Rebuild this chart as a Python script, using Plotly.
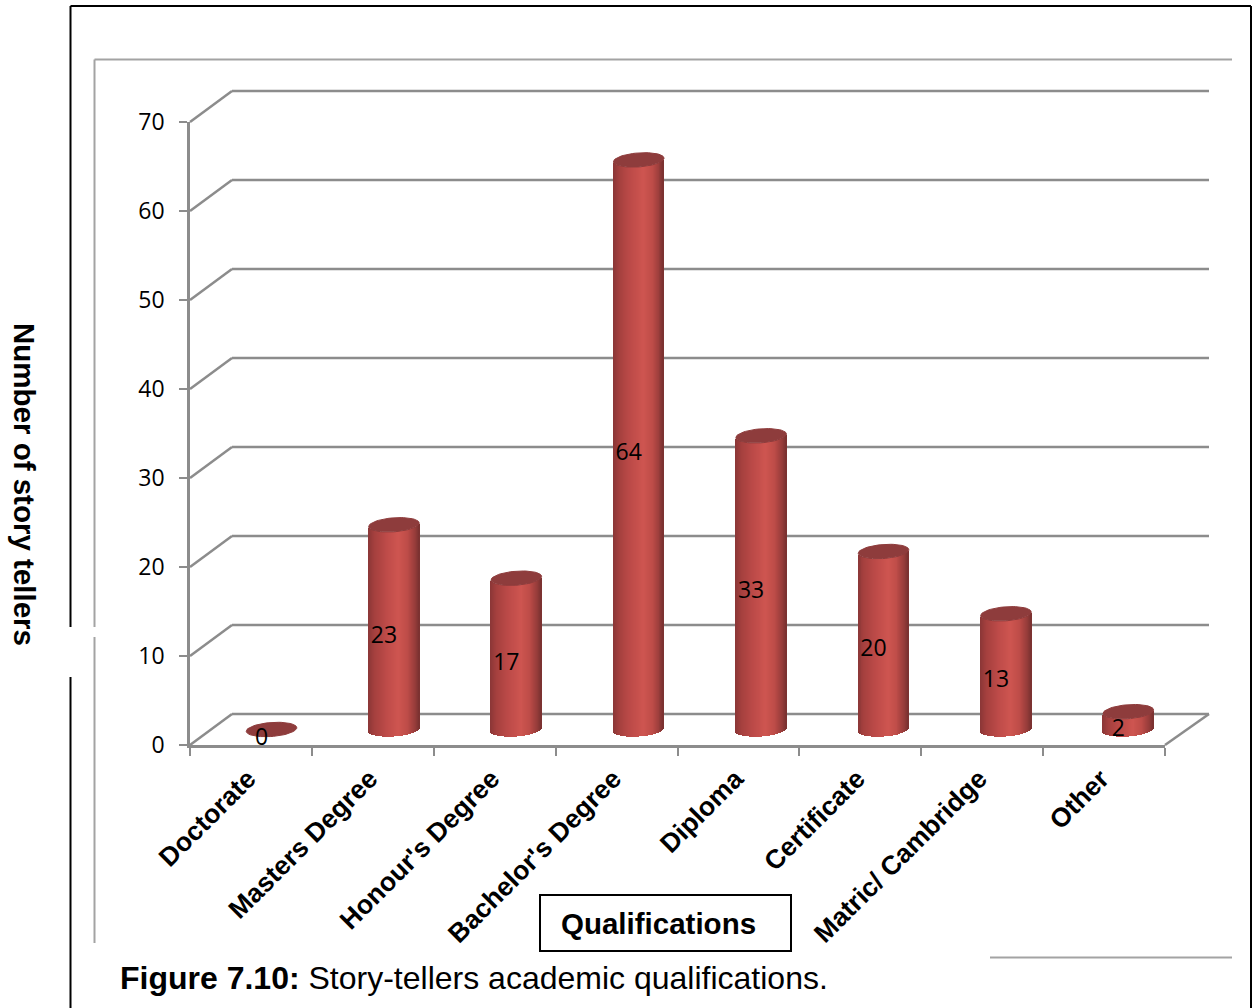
import numpy as np
import plotly.graph_objects as go

# Survey counts per qualification
categories = ["Doctorate", "Masters Degree", "Honour's Degree", "Bachelor's Degree",
              "Diploma", "Certificate", "Matric/ Cambridge", "Other"]
values = [0, 23, 17, 64, 33, 20, 13, 2]
value_ticks = [0, 10, 20, 30, 40, 50, 60, 70]

W, H = 1252, 1008
LEFT, RIGHT, TOP, BOTTOM = 190, 1165, 122, 745
PX_X = (RIGHT - LEFT) / len(categories)
PX_Y = (BOTTOM - TOP) / 70

# Oblique projection of the chart box, in pixels
DEPTH_X, DEPTH_Y = 42, 31
RADIUS, MINOR, SKEW = 25.3, 7.0, -0.07
FIRST_AXIS_PX, AXIS_STEP_PX = 271.5, 122.4
GRID = "#8c8c8c"
FRAME = "#a3a3a3"
FONT_BOLD = "Liberation Sans"
FONT_NUM = "Open Sans"

n = len(categories)
centers = np.arange(n) + 0.5
axis_x = (FIRST_AXIS_PX - LEFT + np.arange(n) * AXIS_STEP_PX) / PX_X
axis_y = (DEPTH_Y / 2) / PX_Y

# Cylinder bodies are narrow vertical strips with a horizontal shading ramp
STOPS_U = [-1.0, -0.75, -0.3, 0.2, 0.55, 0.85, 1.0]
STOPS_R = [138, 165, 188, 206, 190, 150, 120]
STOPS_G = [54, 64, 74, 85, 76, 60, 48]
STOPS_B = [54, 62, 72, 80, 72, 58, 48]
n_strips = 52
u = (np.arange(n_strips) + 0.5) / n_strips * 2 - 1
strip_x, strip_y, strip_base, strip_color = [], [], [], []
for cx, v in zip(axis_x, values):
    for ui in u:
        shift = (-MINOR * np.sqrt(1 - ui ** 2) - SKEW * RADIUS * ui) / PX_Y
        strip_x.append(cx + ui * RADIUS / PX_X)
        strip_y.append(v)
        strip_base.append(axis_y + shift)
        r = np.interp(ui, STOPS_U, STOPS_R)
        g = np.interp(ui, STOPS_U, STOPS_G)
        b = np.interp(ui, STOPS_U, STOPS_B)
        strip_color.append(f"rgb({r:.0f},{g:.0f},{b:.0f})")

fig = go.Figure()
fig.add_trace(go.Bar(
    x=strip_x, y=strip_y, base=strip_base, width=1.25 * RADIUS * 2 / n_strips / PX_X,
    marker=dict(color=strip_color, line=dict(width=0)),
    cliponaxis=False, hoverinfo="skip", showlegend=False,
))

# Elliptical caps on top of each cylinder
t = np.linspace(0, 2 * np.pi, 60)
cap_x, cap_y = [], []
for cx, v in zip(axis_x, values):
    cap_x += list(cx + RADIUS * np.cos(t) / PX_X) + [None]
    cap_y += list(axis_y + v + (MINOR * np.sin(t) - SKEW * RADIUS * np.cos(t)) / PX_Y) + [None]
fig.add_trace(go.Scatter(
    x=cap_x, y=cap_y, mode="lines", fill="toself", fillcolor="#8e3c3c",
    line=dict(width=1, color="#8e3c3c"), cliponaxis=False,
    hoverinfo="skip", showlegend=False,
))

# Value labels centred on each cylinder
fig.add_trace(go.Scatter(
    x=axis_x - 10 / PX_X, y=[axis_y + v / 2 - 10 / PX_Y for v in values],
    text=[str(v) for v in values], mode="text", textposition="middle center",
    textfont=dict(family=FONT_NUM, size=23, color="black"),
    cliponaxis=False, hoverinfo="skip", showlegend=False,
))


def page_line(x0, y0, x1, y1, color, width):
    return dict(type="line", xref="paper", yref="paper",
                x0=x0 / W, x1=x1 / W, y0=1 - y0 / H, y1=1 - y1 / H,
                line=dict(color=color, width=width), layer="below")


# Back wall gridlines with their diagonals, plus the floor's right edge.
# These run past the axes' domain, so they are placed in page coordinates.
shapes = []
for v in value_ticks:
    py = BOTTOM - v * PX_Y
    shapes.append(page_line(LEFT, py, LEFT + DEPTH_X, py - DEPTH_Y, GRID, 2.5))
    shapes.append(page_line(LEFT + DEPTH_X, py - DEPTH_Y, RIGHT + DEPTH_X + 2, py - DEPTH_Y, GRID, 2.5))
shapes.append(page_line(RIGHT, BOTTOM, RIGHT + DEPTH_X + 2, BOTTOM - DEPTH_Y, GRID, 2.5))

# Outer black border and inner grey chart frame, both interrupted on the left
shapes += [
    page_line(70.5, 6, 1251, 6, "black", 2),
    page_line(1251, 6, 1251, 1008, "black", 2),
    page_line(70.5, 6, 70.5, 627, "black", 2),
    page_line(70.5, 677, 70.5, 1008, "black", 2),
    page_line(94.5, 59.5, 1232, 59.5, FRAME, 2),
    page_line(94.5, 59.5, 94.5, 627, FRAME, 2),
    page_line(94.5, 637, 94.5, 943, FRAME, 2),
    page_line(990, 957.5, 1232, 957.5, FRAME, 2),
    # Box around the horizontal axis title
    dict(type="rect", xref="paper", yref="paper", layer="above",
         x0=540 / W, x1=791 / W, y0=1 - 951 / H, y1=1 - 895 / H,
         line=dict(color="black", width=2), fillcolor="white"),
]

annotations = [
    dict(text="<b>Number of story tellers</b>", xref="paper", yref="paper",
         x=25 / W, y=1 - 484 / H, textangle=90, showarrow=False, xanchor="center", yanchor="middle",
         font=dict(family=FONT_BOLD, size=29.5, color="black")),
    dict(text="<b>Qualifications</b>", xref="paper", yref="paper",
         x=658 / W, y=1 - 923 / H, showarrow=False, xanchor="center", yanchor="middle",
         font=dict(family=FONT_BOLD, size=29.5, color="black")),
    dict(text="<b>Figure 7.10:</b> Story-tellers academic qualifications.", xref="paper", yref="paper",
         x=118 / W, y=1 - 978 / H, showarrow=False, xanchor="left", yanchor="middle",
         font=dict(family=FONT_BOLD, size=32, color="black")),
]

fig.update_layout(
    template=None,
    width=W, height=H, autosize=False,
    margin=dict(l=0, r=0, t=0, b=0),
    paper_bgcolor="white", plot_bgcolor="rgba(0,0,0,0)",
    barmode="overlay", bargap=0,
    shapes=shapes, annotations=annotations,
    xaxis=dict(
        domain=[LEFT / W, RIGHT / W], range=[0, n], fixedrange=True, automargin=False,
        tickmode="array", tickvals=list(centers), ticktext=categories, ticks="", tickangle=-45,
        ticklabelstandoff=5, ticklabelshift=-3,
        tickfont=dict(family=FONT_BOLD, size=26.5, color="black", weight="bold"),
        showgrid=False, zeroline=False, showline=True, linecolor=GRID, linewidth=2.5,
        minor=dict(tickmode="array", tickvals=list(range(n + 1)), ticks="outside",
                   ticklen=8, tickwidth=2, tickcolor=GRID, showgrid=False),
    ),
    yaxis=dict(
        domain=[1 - BOTTOM / H, 1 - TOP / H], range=[0, 70], fixedrange=True, automargin=False,
        tickmode="array", tickvals=value_ticks, ticks="outside", ticklen=8, tickwidth=2, tickcolor=GRID,
        ticklabelstandoff=10,
        tickfont=dict(family=FONT_NUM, size=23, color="black"),
        showgrid=False, zeroline=False, showline=True, linecolor=GRID, linewidth=2.5,
    ),
)

fig.write_html("out.html")
